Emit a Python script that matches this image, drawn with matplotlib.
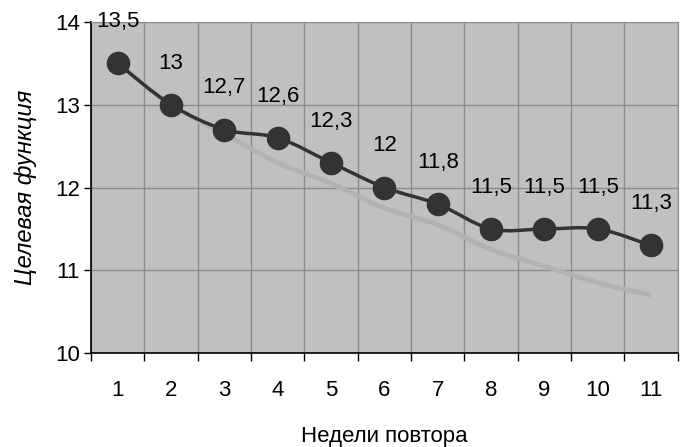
import numpy as np
import matplotlib
matplotlib.use("Agg")
import matplotlib.pyplot as plt
from matplotlib.path import Path
from matplotlib.patches import PathPatch

weeks = [1, 2, 3, 4, 5, 6, 7, 8, 9, 10, 11]
objective = [13.5, 13.0, 12.7, 12.6, 12.3, 12.0, 11.8, 11.5, 11.5, 11.5, 11.3]
trend = [13.5, 13.0, 12.65, 12.3, 12.05, 11.75, 11.55, 11.25, 11.05, 10.85, 10.7]
labels = ["13,5", "13", "12,7", "12,6", "12,3", "12", "11,8", "11,5", "11,5", "11,5", "11,3"]

plt.rcParams['font.family'] = ['Liberation Sans', 'DejaVu Sans']


def smooth_path(xs, ys):
    # Excel-style smoothed line: cubic Bezier segments through the points
    pts = np.column_stack([xs, ys]).astype(float)
    verts = [pts[0]]
    codes = [Path.MOVETO]
    n = len(pts)
    for i in range(n - 1):
        p0 = pts[i - 1] if i > 0 else pts[i]
        p1 = pts[i]
        p2 = pts[i + 1]
        p3 = pts[i + 2] if i + 2 < n else pts[i + 1]
        c1 = p1 + (p2 - p0) / 6.0
        c2 = p2 - (p3 - p1) / 6.0
        verts += [c1, c2, p2]
        codes += [Path.CURVE4] * 3
    return Path(verts, codes)


fig = plt.figure(figsize=(6.84, 4.47), dpi=100)
ax = fig.add_axes([0.133, 0.210, 0.858, 0.741])
ax.set_facecolor('#c0c0c0')

ax.set_xlim(0.5, 11.5)
ax.set_ylim(10, 14)

# grid
ax.set_xticks(np.arange(0.5, 12, 1))
ax.set_xticklabels([])
ax.set_xticks(weeks, minor=True)
ax.set_xticklabels([str(w) for w in weeks], minor=True)
ax.set_yticks([10, 11, 12, 13, 14])
ax.set_yticklabels(['10', '11', '12', '13', '14'])
ax.grid(True, which='major', color='#8c8c8c', linewidth=1)
ax.set_axisbelow(True)

ax.tick_params(axis='x', which='major', direction='out', length=6, width=1, color='black')
ax.tick_params(axis='x', which='minor', length=0, pad=19.5, labelsize=16)
ax.tick_params(axis='y', direction='out', length=5, width=1, labelsize=16, pad=3)

for s in ['top', 'right']:
    ax.spines[s].set_color('#8c8c8c')
for s in ['left', 'bottom']:
    ax.spines[s].set_color('black')
    ax.spines[s].set_linewidth(1.2)

ax.add_patch(PathPatch(smooth_path(weeks, trend), facecolor='none',
                       edgecolor='#b2b2b2', linewidth=3.5, zorder=2))
ax.add_patch(PathPatch(smooth_path(weeks, objective), facecolor='none',
                       edgecolor='#333333', linewidth=2.5, zorder=3))
ax.plot(weeks, objective, linestyle='none', marker='o', markersize=16,
        color='#333333', zorder=4, clip_on=False)

for x, y, t in zip(weeks, objective, labels):
    ax.annotate(t, (x, y), xytext=(0, 30), textcoords='offset points',
                ha='center', va='center', fontsize=16, color='black',
                annotation_clip=False)

ax.set_ylabel('Целевая функция', fontsize=17, style='italic', labelpad=13)
ax.set_xlabel('Недели повтора', fontsize=16, labelpad=18)

fig.savefig('out.png', dpi=100)
